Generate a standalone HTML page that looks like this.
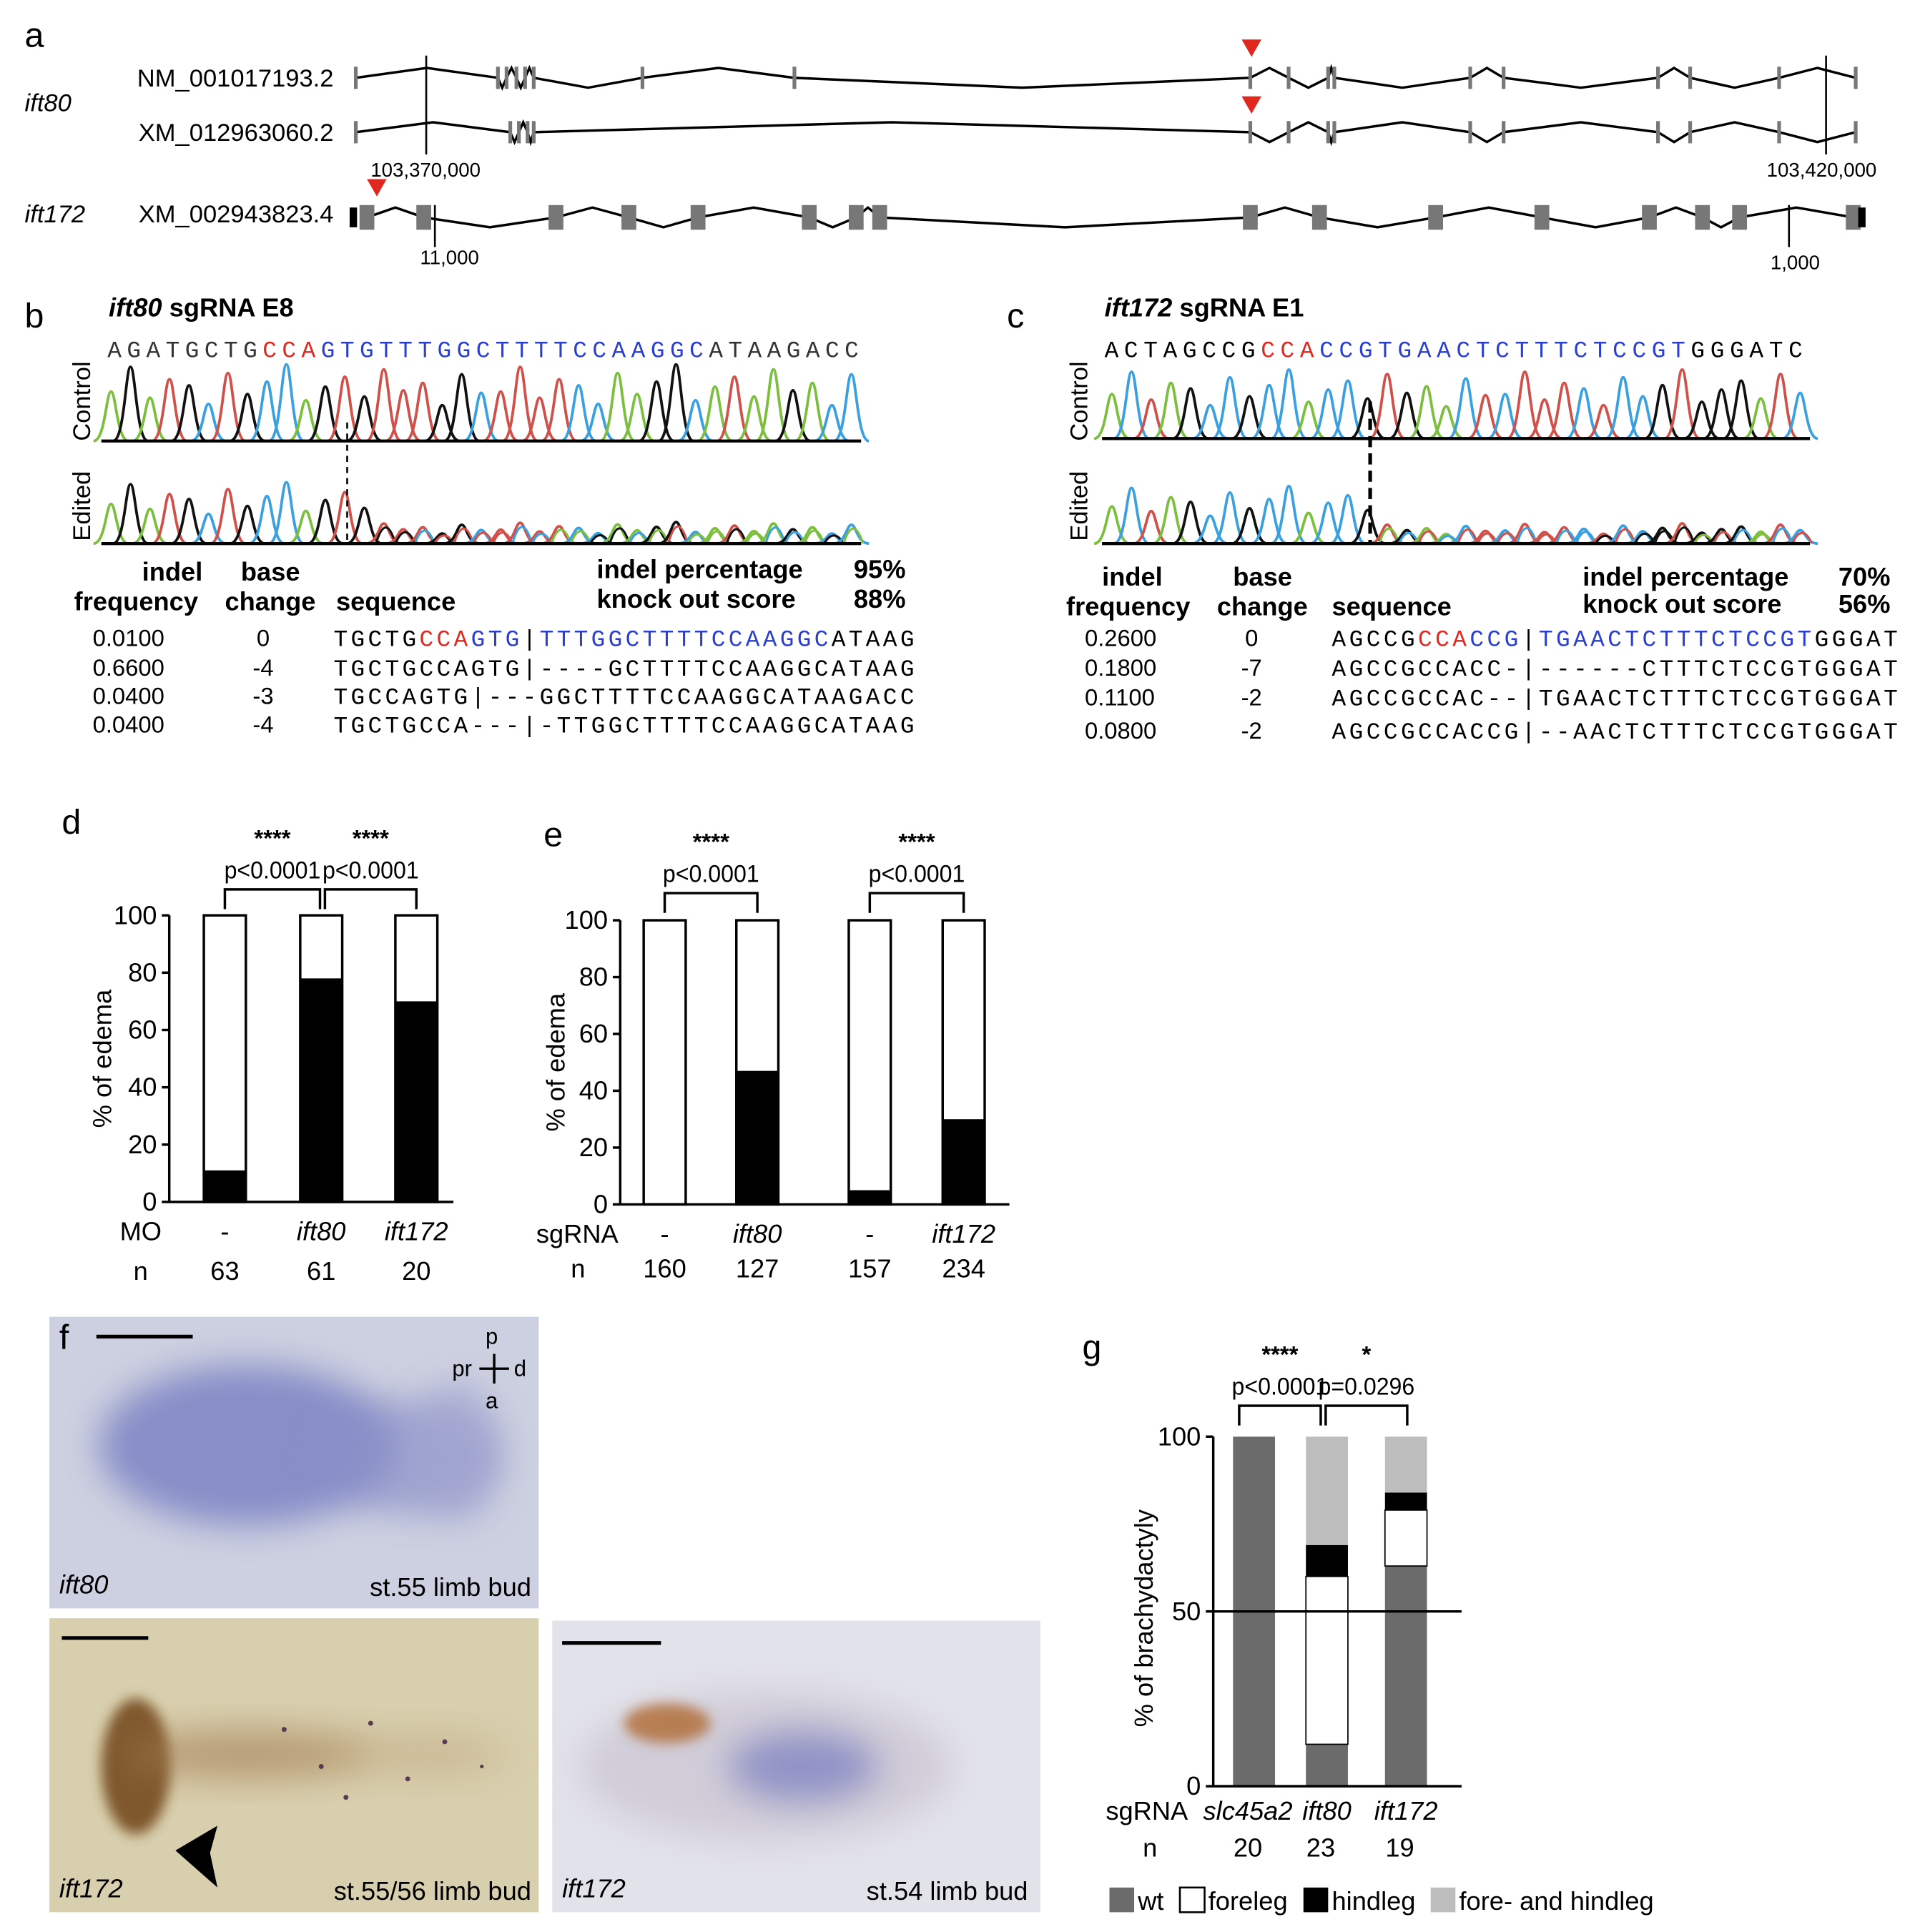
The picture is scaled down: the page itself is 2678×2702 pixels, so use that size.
<!DOCTYPE html>
<html><head><meta charset="utf-8"><style>
html,body{margin:0;padding:0;background:#fff}
svg{display:block}
text{font-family:"Liberation Sans",Arial,sans-serif}
.m{font-family:"Liberation Mono",monospace}
</style></head><body>
<svg id="fig" xmlns="http://www.w3.org/2000/svg" width="2678" height="2702" viewBox="0 0 1550 1564" preserveAspectRatio="none">
<defs>
<filter id="bl" x="-50%" y="-50%" width="200%" height="200%"><feGaussianBlur stdDeviation="14"/></filter>
<filter id="bl2" x="-50%" y="-50%" width="200%" height="200%"><feGaussianBlur stdDeviation="5"/></filter>
</defs>
<g id="pa"></g>
<g id="pb"></g>
<g id="pc"></g>
<g id="pd"></g>
<g id="pe"></g>
<g id="pf">
 <rect x="40" y="1066" width="396" height="236" fill="#cdd0e0"/>
 <ellipse cx="200" cy="1170" rx="120" ry="65" fill="#7078c0" opacity="0.75" filter="url(#bl)"/>
 <ellipse cx="330" cy="1180" rx="70" ry="45" fill="#8a90c8" opacity="0.7" filter="url(#bl)"/>
 <ellipse cx="370" cy="1175" rx="35" ry="55" fill="#a0a4d0" opacity="0.7" filter="url(#bl)"/>
 <line x1="78" y1="1082" x2="156" y2="1082" stroke="#000" stroke-width="3"/>
 <text x="48" y="1092" font-size="28">f</text>
 <text x="398" y="1088" font-size="18" text-anchor="middle">p</text>
 <text x="398" y="1140" font-size="18" text-anchor="middle">a</text>
 <text x="382" y="1114" font-size="18" text-anchor="end">pr</text>
 <text x="416" y="1114" font-size="18">d</text>
 <line x1="388" y1="1108" x2="412" y2="1108" stroke="#000" stroke-width="2"/><line x1="400" y1="1096" x2="400" y2="1120" stroke="#000" stroke-width="2"/>
 <text x="48" y="1290" font-size="21" font-style="italic">ift80</text>
 <text x="430" y="1292" font-size="21" text-anchor="end">st.55 limb bud</text>
 <rect x="40" y="1310" width="396" height="238" fill="#d8cfae"/>
 <ellipse cx="110" cy="1430" rx="28" ry="55" fill="#6a3a10" opacity="0.8" filter="url(#bl2)"/>
 <ellipse cx="200" cy="1420" rx="100" ry="20" fill="#a07a50" opacity="0.6" filter="url(#bl)"/>
 <ellipse cx="340" cy="1420" rx="70" ry="18" fill="#c0a880" opacity="0.5" filter="url(#bl)"/>
 <g fill="#5a3a50"><circle cx="230" cy="1400" r="2"/><circle cx="260" cy="1430" r="2"/><circle cx="300" cy="1395" r="2"/><circle cx="330" cy="1440" r="2"/><circle cx="360" cy="1410" r="2"/><circle cx="390" cy="1430" r="1.5"/><circle cx="280" cy="1455" r="2"/></g>
 <line x1="50" y1="1326" x2="120" y2="1326" stroke="#000" stroke-width="3"/>
 <polygon points="142,1498 176,1478 170,1500 176,1528" fill="#000"/>
 <text x="48" y="1536" font-size="21" font-style="italic">ift172</text>
 <text x="430" y="1538" font-size="21" text-anchor="end">st.55/56 limb bud</text>
 <rect x="447" y="1312" width="395" height="236" fill="#e2e2ea"/>
 <ellipse cx="620" cy="1430" rx="150" ry="60" fill="#d0ccd8" filter="url(#bl)"/>
 <ellipse cx="540" cy="1395" rx="35" ry="16" fill="#b06a30" opacity="0.8" filter="url(#bl2)"/>
 <ellipse cx="650" cy="1430" rx="60" ry="28" fill="#7b80c0" opacity="0.75" filter="url(#bl)"/>
 <line x1="455" y1="1330" x2="535" y2="1330" stroke="#000" stroke-width="3"/>
 <text x="455" y="1536" font-size="21" font-style="italic">ift172</text>
 <text x="832" y="1538" font-size="21" text-anchor="end">st.54 limb bud</text>
</g>
<g id="pg"></g>
</svg>
<script>
const NS="http://www.w3.org/2000/svg";
function el(p,t,a,txt){const e=document.createElementNS(NS,t);for(const k in a)e.setAttribute(k,a[k]);if(txt!==undefined)e.textContent=txt;p.appendChild(e);return e;}
// ---- Panel a ----
const pa=document.getElementById('pa');
let t=el(pa,'text',{x:20,y:38,'font-size':28},'a');


el(pa,'text',{x:20,y:90,'font-size':20,'font-style':'italic'},'ift80');
el(pa,'text',{x:270,y:70,'font-size':20,'text-anchor':'end'},'NM_001017193.2');
el(pa,'text',{x:270,y:114,'font-size':20,'text-anchor':'end'},'XM_012963060.2');
el(pa,'text',{x:20,y:180,'font-size':20,'font-style':'italic'},'ift172');
el(pa,'text',{x:270,y:180,'font-size':20,'text-anchor':'end'},'XM_002943823.4');
const tracks=[
 {y:63,x0:288,x1:1502,ex:[288,403,410,418,425,432,520,643,1012,1043,1075,1080,1190,1217,1342,1368,1440,1502],w:3,h:18},
 {y:107,x0:288,x1:1502,ex:[288,413,420,427,432,1012,1043,1075,1080,1190,1217,1342,1368,1440,1502],w:3,h:18},
 {y:176,x0:285,x1:1508,ex:[297,343,450,509,565,655,693,712,1012,1068,1162,1248,1335,1378,1408,1500],w:12,h:20}];
tracks.forEach((tr,i)=>{
 const g=el(pa,'g',{});
 
 
 let pts=[];const ex=tr.ex;
 for(let k=0;k<ex.length-1;k++){const a=ex[k],b=ex[k+1];const dy=(k%2?8:-8);pts.push(a+','+tr.y,((a+b)/2)+','+(tr.y+dy),b+','+tr.y);}
 el(g,'polyline',{points:pts.join(' '),fill:'none',stroke:'#000','stroke-width':2});
 ex.forEach(x=>el(g,'rect',{x:x-tr.w/2,y:tr.y-tr.h/2,width:tr.w,height:tr.h,fill:'#777'}));
});
el(pa,'rect',{x:283,y:168,width:6,height:16,fill:'#000'});el(pa,'rect',{x:1504,y:168,width:6,height:16,fill:'#000'});
el(pa,'line',{x1:345,y1:45,x2:345,y2:125,stroke:'#000','stroke-width':1.5});
el(pa,'text',{x:300,y:143,'font-size':16},'103,370,000');
el(pa,'line',{x1:1478,y1:45,x2:1478,y2:125,stroke:'#000','stroke-width':1.5});
el(pa,'text',{x:1430,y:143,'font-size':16},'103,420,000');
el(pa,'line',{x1:352,y1:166,x2:352,y2:200,stroke:'#000','stroke-width':1.5});
el(pa,'text',{x:340,y:214,'font-size':16},'11,000');
el(pa,'line',{x1:1448,y1:166,x2:1448,y2:200,stroke:'#000','stroke-width':1.5});
el(pa,'text',{x:1433,y:218,'font-size':16},'1,000');
[[1013,32],[1013,78],[305,145]].forEach(a=>el(pa,'polygon',{points:`${a[0]-8},${a[1]} ${a[0]+8},${a[1]} ${a[0]},${a[1]+14}`,fill:'#e0281e'}));
// ---- Chromatograms ----
const baseCol={A:'#7cbf3e',C:'#3aa0e0',G:'#111',T:'#d0504a'};
const hPat=[40,60,35,50,45,30,55,38,48,62,33,44,52,36,58,41,47,29,54,39];
function chrom(g,seq,x0,x1,yb,scale,cut,edited){
 const dx=(x1-x0)/seq.length;
 for(let i=0;i<seq.length;i++){
  let h=hPat[i%hPat.length]*scale;
  if(edited&&i>=cut) h*=0.35;
  const cx=x0+dx*(i+0.5);
  el(g,'path',{d:`M${cx-dx*0.9},${yb} C${cx-dx*0.3},${yb} ${cx-dx*0.25},${yb-h} ${cx},${yb-h} C${cx+dx*0.25},${yb-h} ${cx+dx*0.3},${yb} ${cx+dx*0.9},${yb}`,fill:'none',stroke:baseCol[seq[i]],'stroke-width':2.2});
  if(edited&&i>=cut){const s=seq[(i+3)%seq.length];el(g,'path',{d:`M${cx-dx*0.4},${yb} Q${cx+dx*0.1},${yb-h*1.6} ${cx+dx*0.6},${yb}`,fill:'none',stroke:baseCol[s],'stroke-width':1.8});}
 }
 el(g,'line',{x1:x0,y1:yb,x2:x1,y2:yb,stroke:'#000','stroke-width':2.5});
}
function seqLine(g,x,y,len,parts,fs){const tx=el(g,'text',{x:x,y:y,'font-size':fs,class:'m',textLength:len,lengthAdjust:'spacing'});parts.forEach(p=>el(tx,'tspan',{fill:p[1]},p[0]));return tx;}
// Panel b
const pb=document.getElementById('pb');
t=el(pb,'text',{x:20,y:265,'font-size':28},'b');


t=el(pb,'text',{x:88,y:256,'font-size':21,'font-weight':'bold'});el(t,'tspan',{'font-style':'italic'},'ift80');el(t,'tspan',{},' sgRNA E8');
const seqB='AGATGCTGCCAGTGTTTGGCTTTTCCAAGGCATAAGACC';
seqLine(pb,87,289,608,[['AGATGCTG','#333'],['CCA','#e0281e'],['GTGTTTGGCTTTTCCAAGGC','#2a3fd0'],['ATAAGACC','#333']],19);
el(pb,'text',{x:73,y:357,'font-size':20,transform:'rotate(-90 73 357)'},'Control');
el(pb,'text',{x:73,y:438,'font-size':20,transform:'rotate(-90 73 438)'},'Edited');
let cg=el(pb,'g',{});
chrom(cg,seqB,82,697,357,1,14,false);
let eg=el(pb,'g',{});
chrom(eg,seqB,82,697,440,0.8,14,true);
el(pb,'line',{x1:281,y1:342,x2:281,y2:440,stroke:'#000','stroke-width':1.5,'stroke-dasharray':'5,4'});
[['indel',115,470],['frequency',60,494],['base',195,470],['change',182,494],['sequence',272,494],['indel percentage',483,468],['knock out score',483,492],['95%',691,468],['88%',691,492]].forEach(a=>el(pb,'text',{x:a[1],y:a[2],'font-size':21,'font-weight':'bold'},a[0]));
const bFreq=['0.0100','0.6600','0.0400','0.0400'], bChg=['0','-4','-3','-4'];
const bSeq=[[['TGCTG','#000'],['CCA','#e0281e'],['GTG','#2a3fd0'],['|','#000'],['TTTGGCTTTTCCAAGGC','#2a3fd0'],['ATAAG','#000']],
 [['TGCTGCCAGTG|----GCTTTTCCAAGGCATAAG','#000']],[['TGCCAGTG|---GGCTTTTCCAAGGCATAAGACC','#000']],[['TGCTGCCA---|-TTGGCTTTTCCAAGGCATAAG','#000']]];
[523,547,570,593].forEach((y,i)=>{el(pb,'text',{x:75,y:y,'font-size':19},bFreq[i]);el(pb,'text',{x:213,y:y,'font-size':19,'text-anchor':'middle'},bChg[i]);seqLine(pb,270,y,470,bSeq[i],19);});
// Panel c
const pc=document.getElementById('pc');
t=el(pc,'text',{x:815,y:265,'font-size':28},'c');


t=el(pc,'text',{x:894,y:256,'font-size':21,'font-weight':'bold'});el(t,'tspan',{'font-style':'italic'},'ift172');el(t,'tspan',{},' sgRNA E1');
const seqC='ACTAGCCGCCACCGTGAACTCTTTCTCCGTGGGATC';
seqLine(pc,894,289,565,[['ACTAGCCG','#000'],['CCA','#e0281e'],['CCGTGAACTCTTTCTCCGT','#2a3fd0'],['GGGATC','#000']],19);
el(pc,'text',{x:880,y:357,'font-size':20,transform:'rotate(-90 880 357)'},'Control');
el(pc,'text',{x:880,y:438,'font-size':20,transform:'rotate(-90 880 438)'},'Edited');
cg=el(pc,'g',{});
chrom(cg,seqC,892,1465,355,0.9,14,false);
eg=el(pc,'g',{});
chrom(eg,seqC,892,1465,440,0.75,14,true);
el(pc,'line',{x1:1109,y1:325,x2:1109,y2:440,stroke:'#000','stroke-width':3,'stroke-dasharray':'9,5'});
[['indel',892,474],['frequency',863,498],['base',998,474],['change',985,498],['sequence',1078,498],['indel percentage',1281,474],['knock out score',1281,496],['70%',1488,474],['56%',1488,496]].forEach(a=>el(pc,'text',{x:a[1],y:a[2],'font-size':21,'font-weight':'bold'},a[0]));
const cFreq=['0.2600','0.1800','0.1100','0.0800'], cChg=['0','-7','-2','-2'];
const cSeq=[[['AGCCG','#000'],['CCA','#e0281e'],['CCG','#2a3fd0'],['|','#000'],['TGAACTCTTTCTCCGT','#2a3fd0'],['GGGAT','#000']],
 [['AGCCGCCACC-|------CTTTCTCCGTGGGAT','#000']],[['AGCCGCCAC--|TGAACTCTTTCTCCGTGGGAT','#000']],[['AGCCGCCACCG|--AACTCTTTCTCCGTGGGAT','#000']]];
[523,547,571,598].forEach((y,i)=>{el(pc,'text',{x:878,y:y,'font-size':19},cFreq[i]);el(pc,'text',{x:1013,y:y,'font-size':19,'text-anchor':'middle'},cChg[i]);seqLine(pc,1078,y,458,cSeq[i],19);});
// ---- Bar charts ----
function axisY(g,x,y0,y100,ticks,fs){el(g,'line',{x1:x,y1:y0,x2:x,y2:y100,stroke:'#000','stroke-width':2});ticks.forEach(v=>{const y=y0+(y100-y0)*v/100;el(g,'line',{x1:x-6,y1:y,x2:x,y2:y,stroke:'#000','stroke-width':2});el(g,'text',{x:x-10,y:y+7,'font-size':fs,'text-anchor':'end'},String(v));});}
function bracket(g,xa,xb,y,p,stars){el(g,'polyline',{points:`${xa},${y+16} ${xa},${y} ${xb},${y} ${xb},${y+16}`,fill:'none',stroke:'#000','stroke-width':2});el(g,'text',{x:(xa+xb)/2,y:y-9,'font-size':20,'text-anchor':'middle',textLength:78,lengthAdjust:'spacingAndGlyphs'},p);el(g,'text',{x:(xa+xb)/2,y:y-35,'font-size':19,'text-anchor':'middle','font-weight':'bold'},stars);}
// Panel d
const dCats=['-','ift80','ift172'], dN=['63','61','20'], dVals=[11,78,70];
const pd=document.getElementById('pd');
t=el(pd,'text',{x:50,y:675,'font-size':28},'d');


const dy0=973,dy1=741,dX=[182,260,337];const dyS=v=>dy0-(dy0-dy1)*v/100;
dCats.forEach((c,i)=>{const x=dX[i]-17;
 let r=el(pd,'rect',{x:x,y:dy1,width:34,height:dy0-dy1,fill:'#fff',stroke:'#000','stroke-width':2});
 
 r=el(pd,'rect',{x:x,y:dyS(dVals[i]),width:34,height:dy0-dyS(dVals[i]),fill:'#000'});
 
 el(pd,'text',{x:dX[i],y:1004,'font-size':21,'text-anchor':'middle','font-style':c=='-'?'normal':'italic'},c);
 el(pd,'text',{x:dX[i],y:1036,'font-size':21,'text-anchor':'middle'},dN[i]);});
axisY(pd,137,dy0,dy1,[0,20,40,60,80,100],21);
el(pd,'line',{x1:137,y1:dy0,x2:367,y2:dy0,stroke:'#000','stroke-width':2});
el(pd,'text',{x:90,y:857,'font-size':21,'text-anchor':'middle',transform:'rotate(-90 90 857)'},'% of edema');
el(pd,'text',{x:97,y:1004,'font-size':21},'MO');el(pd,'text',{x:108,y:1036,'font-size':21},'n');
bracket(pd,182,259,720,'p<0.0001','****');bracket(pd,263,337,720,'p<0.0001','****');
// Panel e
const eCats=['-','ift80','-','ift172'], eN=['160','127','157','234'], eVals=[0,47,5,30];
const pe=document.getElementById('pe');
t=el(pe,'text',{x:440,y:685,'font-size':28},'e');


const ey0=975,ey1=745,eX=[538,613,704,780];const eyS=v=>ey0-(ey0-ey1)*v/100;
eCats.forEach((c,i)=>{const x=eX[i]-17;
 let r=el(pe,'rect',{x:x,y:ey1,width:34,height:ey0-ey1,fill:'#fff',stroke:'#000','stroke-width':2});
 
 r=el(pe,'rect',{x:x,y:eyS(eVals[i]),width:34,height:ey0-eyS(eVals[i]),fill:'#000'});
 
 el(pe,'text',{x:eX[i],y:1006,'font-size':21,'text-anchor':'middle','font-style':c=='-'?'normal':'italic'},c);
 el(pe,'text',{x:eX[i],y:1034,'font-size':21,'text-anchor':'middle'},eN[i]);});
axisY(pe,502,ey0,ey1,[0,20,40,60,80,100],21);
el(pe,'line',{x1:502,y1:ey0,x2:817,y2:ey0,stroke:'#000','stroke-width':2});
el(pe,'text',{x:457,y:860,'font-size':21,'text-anchor':'middle',transform:'rotate(-90 457 860)'},'% of edema');
el(pe,'text',{x:434,y:1006,'font-size':21},'sgRNA');el(pe,'text',{x:462,y:1034,'font-size':21},'n');
bracket(pe,538,613,723,'p<0.0001','****');bracket(pe,704,780,723,'p<0.0001','****');
// Panel g
const gCats=['slc45a2','ift80','ift172'], gN=['20','23','19'];
const gWt=[100,12,63], gFore=[0,48,16], gHind=[0,9,5], gBoth=[0,31,16];
const gCols=['#6b6b6b','#fff','#000','#bdbdbd'], gSer=[gWt,gFore,gHind,gBoth], gSerN=['wt','foreleg','hindleg','both'];
const pg=document.getElementById('pg');
t=el(pg,'text',{x:876,y:1100,'font-size':28},'g');


const gy0=1446,gy1=1163,gX=[1015,1074,1138];const gyS=v=>gy0-(gy0-gy1)*v/100;
gCats.forEach((c,i)=>{let acc=0;
 gSer.forEach((s,j)=>{if(s[i]<=0)return;const yt=gyS(acc+s[i]),yb=gyS(acc);
  const r=el(pg,'rect',{x:gX[i]-17,y:yt,width:34,height:yb-yt,fill:gCols[j],stroke:'#000','stroke-width':j==1?1:0});
  acc+=s[i];});
 el(pg,'text',{x:gX[i]+(i==0?-5:0),y:1473,'font-size':21,'text-anchor':'middle','font-style':'italic'},c);
 el(pg,'text',{x:gX[i]-5,y:1503,'font-size':21,'text-anchor':'middle'},gN[i]);});
el(pg,'line',{x1:982,y1:gyS(50),x2:1183,y2:gyS(50),stroke:'#000','stroke-width':2});
axisY(pg,982,gy0,gy1,[0,50,100],21);
el(pg,'line',{x1:982,y1:gy0,x2:1183,y2:gy0,stroke:'#000','stroke-width':2});
el(pg,'text',{x:933,y:1310,'font-size':21,'text-anchor':'middle',transform:'rotate(-90 933 1310)'},'% of brachydactyly');
el(pg,'text',{x:895,y:1473,'font-size':21},'sgRNA');el(pg,'text',{x:925,y:1503,'font-size':21},'n');
bracket(pg,1003,1069,1138,'p<0.0001','****');bracket(pg,1073,1139,1138,'p=0.0296','*');
const legLab=['wt','foreleg','hindleg','fore- and hindleg'], legX=[898,955,1055,1158];
legLab.forEach((l,i)=>{const g=el(pg,'g',{});
 el(g,'rect',{x:legX[i],y:1528,width:20,height:20,fill:gCols[i],stroke:'#000','stroke-width':i==1?1.5:0});
 el(g,'text',{x:legX[i]+23,y:1546,'font-size':21},l);});
</script>
</body></html>
